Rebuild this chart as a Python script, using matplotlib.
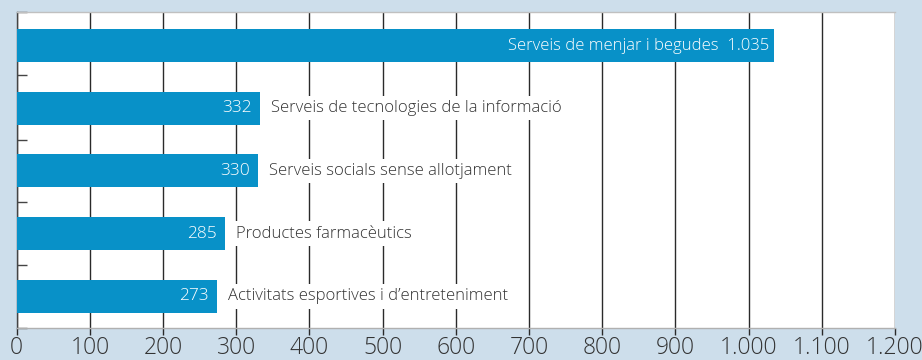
import matplotlib
matplotlib.use("Agg")
import matplotlib.pyplot as plt

categories = [
    "Serveis de menjar i begudes",
    "Serveis de tecnologies de la informació",
    "Serveis socials sense allotjament",
    "Productes farmacèutics",
    "Activitats esportives i d\u2019entreteniment",
]
values = [1035, 332, 330, 285, 273]
value_labels = ["1.035", "332", "330", "285", "273"]
xticks = [0, 100, 200, 300, 400, 500, 600, 700, 800, 900, 1000, 1100, 1200]
xtick_labels = ["0", "100", "200", "300", "400", "500", "600", "700", "800",
                "900", "1.000", "1.100", "1.200"]

BG = "#cddeeb"
BAR = "#0891c8"
TXT = "#333333"
FONT = ["Open Sans", "DejaVu Sans"]
W = "light"

fig = plt.figure(figsize=(9.22, 3.6), dpi=100, facecolor=BG)
ax = fig.add_axes([0.0181, 0.0889, 0.9526, 0.8786])
ax.set_facecolor("white")
n = len(values)
ax.set_xlim(0, 1200)
ax.set_ylim(4.505, -0.54)

ax.barh(range(n), values, height=0.525, color=BAR, zorder=3)

ax.set_xticks(xticks)
ax.set_xticklabels(xtick_labels, fontsize=16.5, color=TXT, family=FONT, fontweight=W)
ax.grid(axis="x", color="#2a2a2a", lw=1.0, zorder=0)
ax.set_axisbelow(True)
ax.tick_params(axis="x", direction="out", length=5, width=1, color="#2a2a2a", pad=1)

ax.set_yticks([-0.54, 0.47, 1.5, 2.5, 3.5, 4.505])
ax.set_yticklabels([])
ax.tick_params(axis="y", direction="in", length=7, width=1, color="#444444")

ax.spines["right"].set_visible(False)
ax.spines["top"].set_color("#c0c0c0")
ax.spines["bottom"].set_color("#b0b0b0")
ax.spines["left"].set_color("#444444")
for s in ax.spines.values():
    s.set_linewidth(1)

for i, (cat, v, lab) in enumerate(zip(categories, values, value_labels)):
    if i == 0:
        ax.annotate(cat + "  " + lab, (v, i), xytext=(-5, 0), textcoords="offset pixels",
                    ha="right", va="center", color="white", fontsize=12,
                    family=FONT, fontweight=W, zorder=5)
    else:
        ax.annotate(lab, (v, i), xytext=(-8, 0), textcoords="offset pixels",
                    ha="right", va="center", color="white", fontsize=12.5,
                    family=FONT, fontweight=W, zorder=5)
        ax.annotate(cat, (v, i), xytext=(11, 0), textcoords="offset pixels",
                    ha="left", va="center", color=TXT, fontsize=12,
                    family=FONT, fontweight=W, zorder=5,
                    bbox=dict(boxstyle="square,pad=0.25", fc="white", ec="none"))

fig.savefig("out.png", dpi=100, facecolor=BG)
